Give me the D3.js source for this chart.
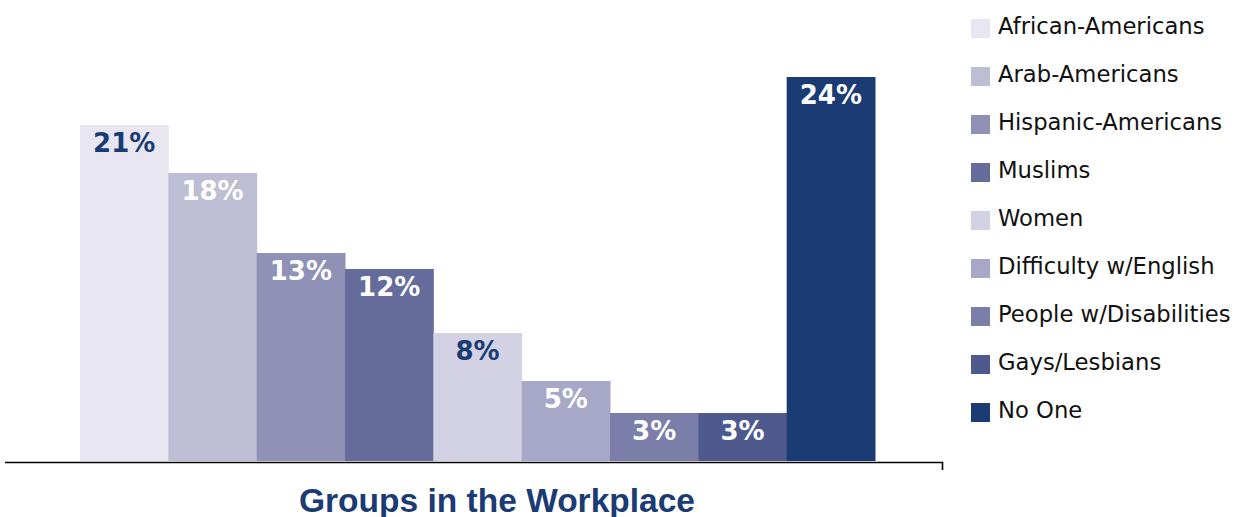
<!DOCTYPE html>
<html><head><meta charset="utf-8">
<script src="https://cdn.jsdelivr.net/npm/d3@7"></script>
<style>body{margin:0;background:#fff}svg{display:block}</style>
</head><body><svg id="c" width="1251" height="517"></svg>
<script>
const categories = ["African-Americans","Arab-Americans","Hispanic-Americans","Muslims","Women","Difficulty w/English","People w/Disabilities","Gays/Lesbians","No One"];
const values = [21,18,13,12,8,5,3,3,24];
const colors = ["#e8e7f1","#bdbdd4","#8f91b7","#656c9b","#d3d2e4","#a7a8c7","#7a7ea9","#4e5a8e","#1b3b74"];
const labelColors = ["#1b3b74","#ffffff","#ffffff","#ffffff","#1b3b74","#ffffff","#ffffff","#ffffff","#ffffff"];
const title = "Groups in the Workplace";

const svg = d3.select("#c");
const x = d3.scaleBand().domain(categories).range([80,875]).padding(0);
const y = d3.scaleLinear().domain([0,24]).range([461,77]);

svg.selectAll("rect.bar").data(categories).join("rect").attr("class","bar")
  .attr("x",d=>x(d)).attr("width",x.bandwidth()+0.5)
  .attr("y",(d,i)=>y(values[i])).attr("height",(d,i)=>y(0)-y(values[i]))
  .attr("fill",(d,i)=>colors[i]);

svg.selectAll("text.lab").data(categories).join("text").attr("class","lab")
  .attr("x",d=>x(d)+x.bandwidth()/2).attr("y",(d,i)=>y(values[i])+27)
  .attr("text-anchor","middle").attr("font-family","'DejaVu Sans', Verdana, sans-serif")
  .attr("font-weight","bold").attr("font-size",26)
  .attr("fill",(d,i)=>labelColors[i]).text((d,i)=>values[i]+"%");

// axis line
svg.append("path").attr("d","M5,462.5H942.5V470").attr("stroke","#000").attr("stroke-width",1.6).attr("fill","none");

// legend
const lg = svg.append("g");
const ly = d3.scalePoint().domain(categories).range([19,403]);
lg.selectAll("rect").data(categories).join("rect")
  .attr("x",971).attr("y",d=>ly(d)).attr("width",19).attr("height",19)
  .attr("fill",(d,i)=>colors[i]);
lg.selectAll("text").data(categories).join("text")
  .attr("x",998).attr("y",d=>ly(d)+15)
  .attr("font-family","'DejaVu Sans', sans-serif").attr("font-size",22.7)
  .attr("fill","#111").text(d=>d);

svg.append("text").attr("x",497).attr("y",512).attr("text-anchor","middle")
  .attr("font-family","'Liberation Sans Narrow', 'Liberation Sans', Arial, sans-serif")
  .attr("font-weight","bold").attr("font-size",33)
  .attr("textLength",396).attr("lengthAdjust","spacingAndGlyphs")
  .attr("fill","#1b3b74").text(title);
</script></body></html>
